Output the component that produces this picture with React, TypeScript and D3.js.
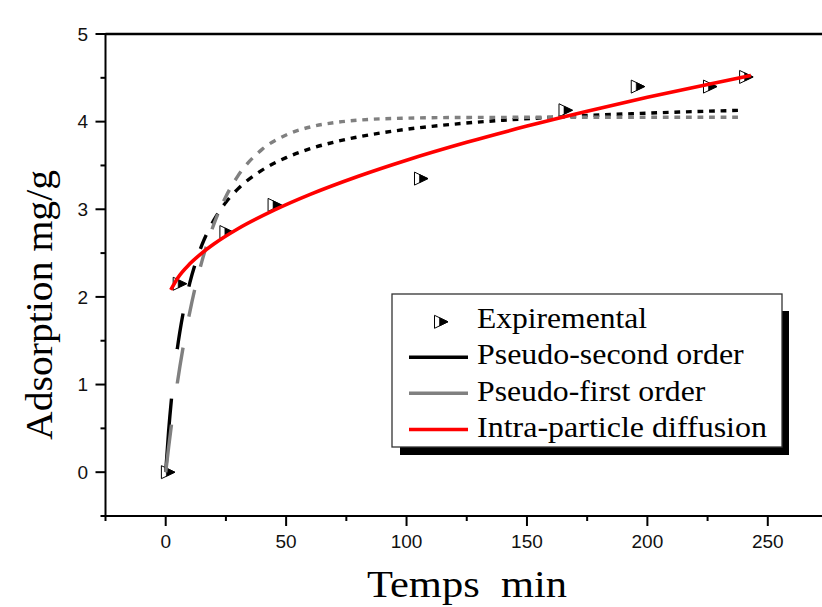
import React, { useLayoutEffect, useRef } from 'react';
import * as d3 from 'd3';

// ---- data ----
const expTime = [0.9, 5.8, 25.2, 45.2, 106, 166, 196, 226, 241];
const expQ = [0, 2.15, 2.74, 3.05, 3.35, 4.13, 4.4, 4.4, 4.51];

const fitTime = [0, 1.2, 2.4, 4.8, 7.2, 10, 12.5, 15, 20, 25, 30, 40, 50, 60, 70, 80, 100, 120, 140, 160, 180, 200, 220, 240];
const psoQ = [0, 0.465, 0.839, 1.404, 1.81, 2.161, 2.399, 2.59, 2.876, 3.08, 3.233, 3.447, 3.589, 3.691, 3.767, 3.826, 3.913, 3.972, 4.016, 4.049, 4.076, 4.097, 4.115, 4.13];
const pfoQ = [0, 0.281, 0.543, 1.013, 1.421, 1.827, 2.137, 2.403, 2.83, 3.146, 3.381, 3.683, 3.848, 3.939, 3.989, 4.017, 4.04, 4.047, 4.049, 4.05, 4.05, 4.05, 4.05, 4.05];

const ipdTime = [2.1, 5, 10, 15, 20, 30, 45, 60, 80, 100, 125, 150, 175, 200, 225, 243];
const ipdQ = [2.08, 2.217, 2.377, 2.5, 2.604, 2.778, 2.99, 3.17, 3.377, 3.56, 3.764, 3.949, 4.119, 4.277, 4.425, 4.527];

const xMajor = [0, 50, 100, 150, 200, 250];
const xMinor = [-25, 25, 75, 125, 175, 225, 275];
const yMajor = [0, 1, 2, 3, 4, 5];
const yMinor = [-0.5, 0.5, 1.5, 2.5, 3.5, 4.5];

const legendLabels = ['Expiremental', 'Pseudo-second order', 'Pseudo-first order', 'Intra-particle diffusion'];
const xTitle = 'Temps  min';
const yTitle = 'Adsorption mg/g';

// ---- layout ----
const W = 822;
const H = 607;
const SERIF = '"Liberation Serif", "Times New Roman", Times, serif';
const SANS = '"Liberation Sans", Arial, Helvetica, sans-serif';
const DASH_STEP = 2.4;

const x = d3.scaleLinear().domain([-25, 275]).range([105.5, 828]);
const y = d3.scaleLinear().domain([-0.5, 5]).range([516, 34]);

const line = d3
  .line<[number, number]>()
  .x((d) => x(d[0]))
  .y((d) => y(d[1]))
  .curve(d3.curveMonotoneX);

const zip = (a: number[], b: number[]) => a.map((v, i) => [v, b[i]] as [number, number]);

function segmentDash(path: SVGPathElement, t0: number, t1: number) {
  const total = path.getTotalLength();
  const findLen = (px: number) => {
    let lo = 0;
    let hi = total;
    for (let i = 0; i < 32; i++) {
      const mid = (lo + hi) / 2;
      if (path.getPointAtLength(mid).x < px) lo = mid;
      else hi = mid;
    }
    return (lo + hi) / 2;
  };
  const lens = [0];
  for (let t = t0 + DASH_STEP; t < t1 - 1e-6; t += DASH_STEP) lens.push(findLen(x(t)));
  lens.push(total);
  const arr: number[] = [];
  for (let i = 1; i < lens.length; i++) arr.push(Math.max(0.01, lens[i] - lens[i - 1]));
  path.setAttribute('stroke-dasharray', arr.map((v) => v.toFixed(2)).join(' '));
}

function Marker({ cx, cy }: { cx: number; cy: number }) {
  const l = cx - 6.5;
  const r = cx + 7;
  const t = cy - 6.5;
  const b = cy + 6.5;
  const s = cx - 1.5;
  const f = (s - l) / (r - l);
  const ts = t + (cy - t) * f;
  const bs = b - (b - cy) * f;
  return (
    <g>
      <polygon points={`${l},${t} ${r},${cy} ${l},${b}`} fill="#fff" stroke="#000" strokeWidth={1} />
      <polygon points={`${s},${ts} ${r},${cy} ${s},${bs}`} fill="#000" stroke="#000" strokeWidth={0.6} />
    </g>
  );
}

export default function App() {
  const psoRef = useRef<SVGPathElement>(null);
  const pfoRef = useRef<SVGPathElement>(null);

  useLayoutEffect(() => {
    if (psoRef.current) segmentDash(psoRef.current, fitTime[0], fitTime[fitTime.length - 1]);
    if (pfoRef.current) segmentDash(pfoRef.current, fitTime[0], fitTime[fitTime.length - 1]);
  }, []);

  const legendRowsY = [328.3, 364.4, 400.5, 436.7];
  const legendColors = ['', '#000000', '#808080', '#ff0000'];
  const legendWidths = [170, 266.7, 228.3, 290];

  return (
    <svg width={W} height={H} style={{ position: 'absolute', left: 0, top: 0, background: '#fff' }}>
      <rect x={0} y={0} width={W} height={H} fill="#fff" />

      {/* frame */}
      <line x1={x(-25)} x2={W + 10} y1={y(5)} y2={y(5)} stroke="#000" strokeWidth={2.6} />
      <line x1={x(-25)} x2={W + 10} y1={y(-0.5)} y2={y(-0.5)} stroke="#000" strokeWidth={2} />
      <line x1={x(-25)} x2={x(-25)} y1={y(5) - 1} y2={y(-0.5) + 1} stroke="#000" strokeWidth={2} />

      {/* y ticks */}
      {yMajor.map((v) => (
        <g key={'ym' + v}>
          <line x1={x(-25) - 10} x2={x(-25)} y1={y(v)} y2={y(v)} stroke="#000" strokeWidth={2} />
          <text x={88} y={y(v)} dy="0.36em" textAnchor="end" fontFamily={SANS} fontSize={19} fill="#111">
            {v}
          </text>
        </g>
      ))}
      {yMinor.map((v) => (
        <line key={'yn' + v} x1={x(-25) - 5} x2={x(-25)} y1={y(v)} y2={y(v)} stroke="#000" strokeWidth={2} />
      ))}

      {/* x ticks */}
      {xMajor.map((v) => (
        <g key={'xm' + v}>
          <line x1={x(v)} x2={x(v)} y1={y(-0.5)} y2={y(-0.5) + 10} stroke="#000" strokeWidth={2} />
          <text x={x(v)} y={548} textAnchor="middle" fontFamily={SANS} fontSize={19} fill="#111">
            {v}
          </text>
        </g>
      ))}
      {xMinor.map((v) => (
        <line key={'xn' + v} x1={x(v)} x2={x(v)} y1={y(-0.5)} y2={y(-0.5) + 5} stroke="#000" strokeWidth={2} />
      ))}

      {/* axis titles */}
      <text
        x={467}
        y={597}
        textAnchor="middle"
        fontFamily={SERIF}
        fontSize={38}
        textLength={200}
        lengthAdjust="spacingAndGlyphs"
        style={{ whiteSpace: 'pre' }}
        fill="#000"
      >
        {xTitle}
      </text>
      <text
        transform={`translate(52,305) rotate(-90)`}
        x={0}
        y={0}
        textAnchor="middle"
        fontFamily={SERIF}
        fontSize={37}
        textLength={270}
        lengthAdjust="spacingAndGlyphs"
        fill="#000"
      >
        {yTitle}
      </text>

      {/* experimental markers */}
      {expTime.map((t, i) => (
        <Marker key={'e' + i} cx={x(t)} cy={y(expQ[i])} />
      ))}

      {/* fitted curves */}
      <path ref={psoRef} d={line(zip(fitTime, psoQ)) || ''} fill="none" stroke="#000" strokeWidth={3.4} />
      <path ref={pfoRef} d={line(zip(fitTime, pfoQ)) || ''} fill="none" stroke="#808080" strokeWidth={3.4} />
      <path d={line(zip(ipdTime, ipdQ)) || ''} fill="none" stroke="#ff0000" strokeWidth={3.6} />

      {/* legend */}
      <rect x={400} y={311} width={389} height={144} fill="#000" />
      <rect x={392} y={294} width={390} height={153} fill="#fff" stroke="#333" strokeWidth={1.3} />
      {legendLabels.map((lab, i) => (
        <g key={'l' + i}>
          {i === 0 ? (
            <Marker cx={441} cy={legendRowsY[i] - 6.5} />
          ) : (
            <line
              x1={409}
              x2={468}
              y1={legendRowsY[i] - 7.2}
              y2={legendRowsY[i] - 7.2}
              stroke={legendColors[i]}
              strokeWidth={3.4}
            />
          )}
          <text
            x={477}
            y={legendRowsY[i]}
            fontFamily={SERIF}
            fontSize={30}
            textLength={legendWidths[i]}
            lengthAdjust="spacingAndGlyphs"
            fill="#000"
          >
            {lab}
          </text>
        </g>
      ))}
    </svg>
  );
}
